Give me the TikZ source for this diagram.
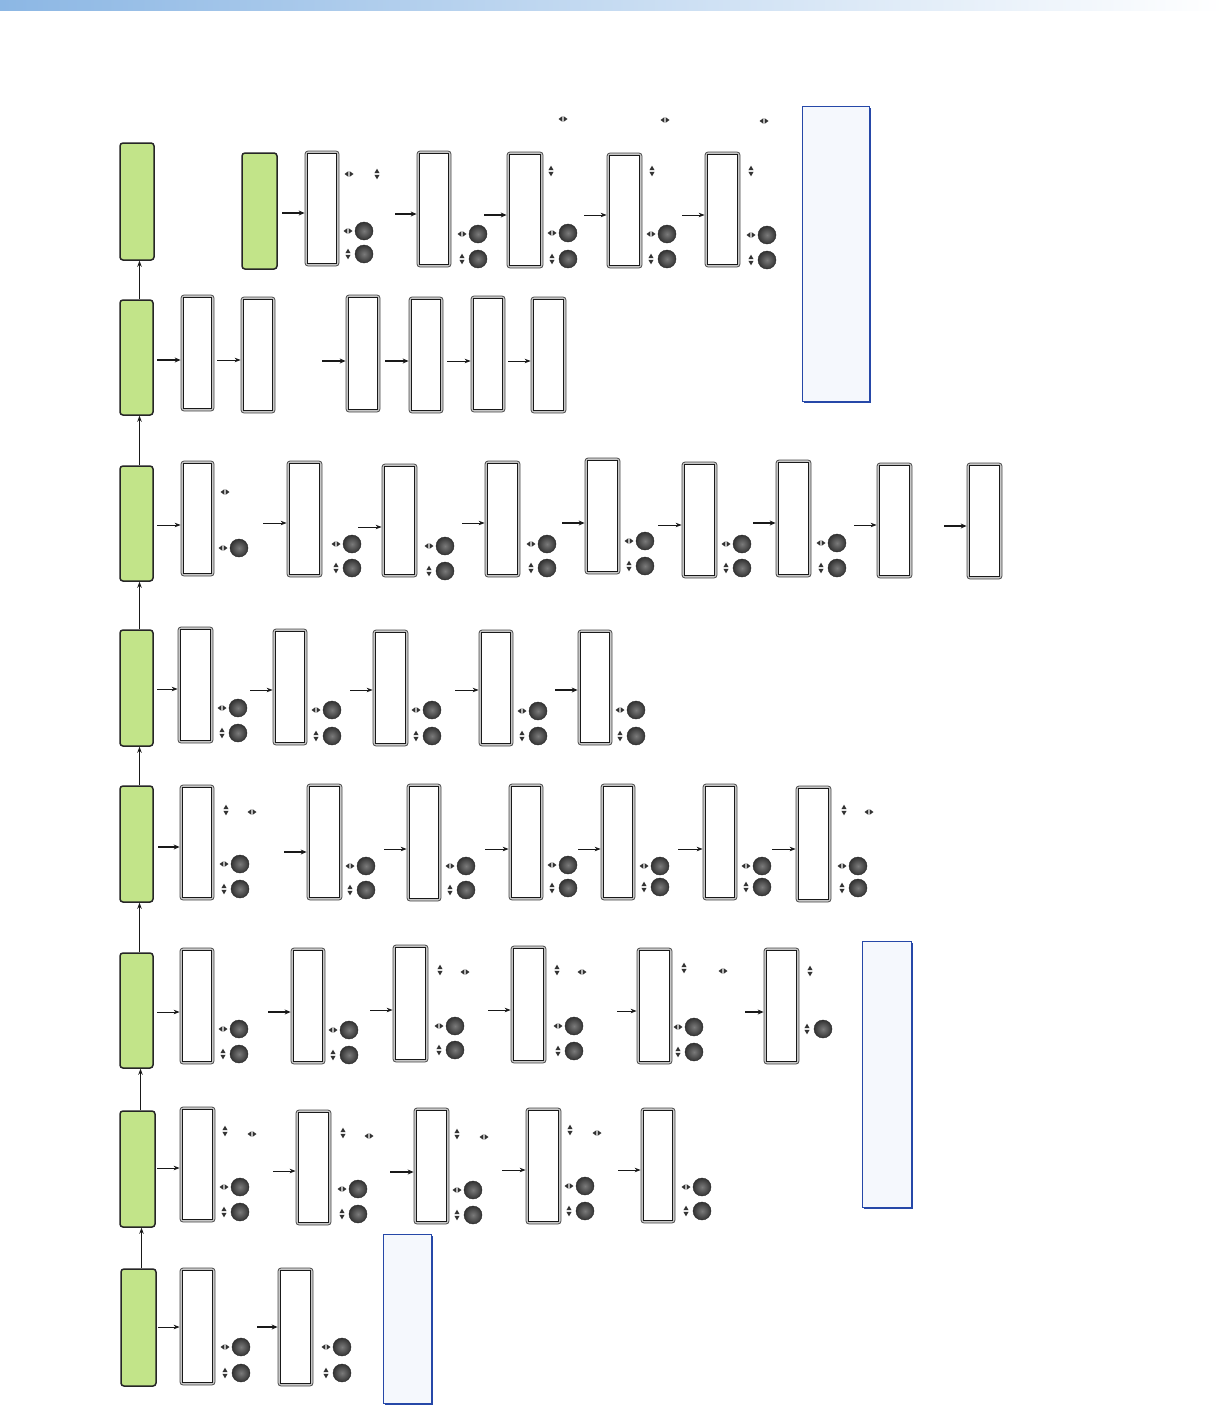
\documentclass[tikz,border=0pt]{standalone}
\usetikzlibrary{arrows.meta,calc}
\definecolor{grnfill}{RGB}{194,228,137}
\definecolor{notefill}{RGB}{245,248,253}
\definecolor{noteline}{RGB}{38,72,168}
\definecolor{barL}{RGB}{140,183,228}
\definecolor{barM}{RGB}{210,226,245}
\tikzset{
  grn/.style={draw=black!85,fill=grnfill,line width=1.5pt,rounded corners=3pt,inner sep=0pt},
  lcd/.style={draw=black!70,fill=black!22,line width=0.8pt,rounded corners=3pt,inner sep=0pt},
  lcdin/.style={draw=black!90,fill=white,line width=0.7pt},
  btn/.style={circle,minimum size=18pt,inner sep=0pt,draw=black!85,line width=0.4pt,shading=radial,inner color=black!52,outer color=black!80},
  ico/.style={fill=black!80},
  notebox/.style={draw=noteline,fill=notefill,line width=1pt,inner sep=0pt},
  thin/.style={draw=black!90,line width=0.8pt,-{Stealth[length=6pt,width=4.5pt]}},
  thick/.style={draw=black!90,line width=1.6pt,-{Stealth[length=6pt,width=5pt]}},
  up/.style={draw=black!90,line width=0.8pt,-{Stealth[length=6pt,width=4.5pt]}}
}
\newcommand{\LCD}[5]{%
  \node[lcd,minimum width={(#4-#2)*1pt},minimum height={(#5-#3)*1pt}] (#1) at ({(#2+#4)/2},{(#3+#5)/2}) {};
  \draw[lcdin] ([shift={(3pt,-3pt)}]#1.north west) rectangle ([shift={(-3pt,3pt)}]#1.south east);}
\newcommand{\GRN}[5]{%
  \node[grn,minimum width={(#4-#2)*1pt},minimum height={(#5-#3)*1pt}] (#1) at ({(#2+#4)/2},{(#3+#5)/2}) {};}
\newcommand{\NOTE}[5]{%
  \fill[noteline] ({#2+1.5},{#3+1.5}) rectangle ({#4+1.5},{#5+1.5});
  \node[notebox,minimum width={(#4-#2)*1pt},minimum height={(#5-#3)*1pt}] (#1) at ({(#2+#4)/2},{(#3+#5)/2}) {};}
\newcommand{\HI}[2]{\fill[ico] ({#1-4.5},#2) -- ({#1-0.6},{#2-2.8}) -- ({#1-0.6},{#2+2.8}) -- cycle
  ({#1+4.5},#2) -- ({#1+0.6},{#2-2.8}) -- ({#1+0.6},{#2+2.8}) -- cycle;}
\newcommand{\VI}[2]{\fill[ico] (#1,{#2-5.3}) -- ({#1-2.6},{#2-0.8}) -- ({#1+2.6},{#2-0.8}) -- cycle
  (#1,{#2+5.3}) -- ({#1-2.6},{#2+0.8}) -- ({#1+2.6},{#2+0.8}) -- cycle;}
\newcommand{\BH}[2]{\node[btn] (bh#1x#2) at (#1,#2) {}; \HI{#1-16}{#2}}
\newcommand{\BV}[2]{\node[btn] (bv#1x#2) at (#1,#2) {}; \VI{#1-16}{#2}}
\newcommand{\ARR}[5]{\coordinate (#1) at (#2,#3); \draw[#5] (#1) -- (#1 -| #4.west);}
\newcommand{\UPL}[2]{\draw[up] ([xshift=3pt]#1.north) -- ([xshift=3pt]#1.north |- #2.south);}
\begin{document}
\begin{tikzpicture}[x=1pt,y=-1pt]
\useasboundingbox (0,0) rectangle (1224,1405);
\fill[white] (0,0) rectangle (1224,1405);
\shade[left color=barL,middle color=barM,right color=white] (0,0) rectangle (1224,11);

% ---------- Row 1 ----------
\GRN{G1}{120}{143}{154}{260}
\GRN{G1b}{242}{153}{277}{269}
\LCD{D11}{305}{151}{339}{266}
\LCD{D12}{417}{151}{451}{267}
\LCD{D13}{507}{152}{543}{268}
\LCD{D14}{607}{153}{642}{268}
\LCD{D15}{705}{152}{740}{267}
\ARR{a11}{282}{213}{D11}{thick}
\ARR{a12}{395}{214}{D12}{thick}
\ARR{a13}{484}{215}{D13}{thick}
\ARR{a14}{584}{215}{D14}{thin}
\ARR{a15}{682}{215}{D15}{thin}
\BH{364}{231}\BV{364}{254}
\BH{478}{234}\BV{478}{259}
\BH{568}{233}\BV{568}{259}
\BH{667}{234}\BV{667}{259}
\BH{767}{235}\BV{767}{260}
\HI{349}{174}\VI{377}{174}
\HI{563}{119}\HI{665}{120}\HI{764}{121}
\VI{551}{171}\VI{652}{171}\VI{751}{171}
\NOTE{N1}{802}{106}{869}{401}

% ---------- Row 2 ----------
\GRN{G2}{120}{300}{153}{415}
\LCD{D21}{181}{295}{214}{411}
\LCD{D22}{241}{297}{275}{413}
\LCD{D23}{346}{295}{380}{412}
\LCD{D24}{409}{297}{443}{413}
\LCD{D25}{471}{296}{505}{412}
\LCD{D26}{531}{297}{566}{413}
\ARR{a21}{157}{360}{D21}{thick}
\ARR{a22}{217}{360}{D22}{thin}
\ARR{a23}{322}{361}{D23}{thick}
\ARR{a24}{385}{361}{D24}{thick}
\ARR{a25}{447}{361}{D25}{thin}
\ARR{a26}{508}{361}{D26}{thin}

% ---------- Row 3 ----------
\GRN{G3}{120}{466}{153}{581}
\LCD{D31}{181}{461}{214}{576}
\LCD{D32}{287}{461}{322}{577}
\LCD{D33}{382}{464}{417}{577}
\LCD{D34}{485}{461}{520}{577}
\LCD{D35}{585}{458}{620}{574}
\LCD{D36}{682}{462}{717}{578}
\LCD{D37}{776}{460}{811}{577}
\LCD{D38}{877}{463}{912}{578}
\LCD{D39}{967}{463}{1002}{579}
\ARR{a31}{157}{525}{D31}{thin}
\ARR{a32}{263}{523}{D32}{thin}
\ARR{a33}{358}{527}{D33}{thin}
\ARR{a34}{462}{523}{D34}{thin}
\ARR{a35}{562}{523}{D35}{thick}
\ARR{a36}{658}{525}{D36}{thin}
\ARR{a37}{753}{523}{D37}{thick}
\ARR{a38}{854}{525}{D38}{thin}
\ARR{a39}{944}{526}{D39}{thick}
\HI{225}{492}
\BH{239}{548}
\BH{352}{544}\BV{352}{568}
\BH{445}{546}\BV{445}{571}
\BH{547}{544}\BV{547}{568}
\BH{645}{541}\BV{645}{566}
\BH{742}{544}\BV{742}{568}
\BH{837}{543}\BV{837}{568}

% ---------- Row 4 ----------
\GRN{G4}{120}{630}{153}{746}
\LCD{D41}{178}{627}{213}{743}
\LCD{D42}{273}{629}{307}{745}
\LCD{D43}{373}{630}{408}{746}
\LCD{D44}{479}{630}{513}{746}
\LCD{D45}{578}{630}{612}{745}
\ARR{a41}{157}{689}{D41}{thin}
\ARR{a42}{250}{690}{D42}{thin}
\ARR{a43}{350}{690}{D43}{thin}
\ARR{a44}{455}{690}{D44}{thin}
\ARR{a45}{555}{690}{D45}{thick}
\BH{238}{708}\BV{238}{733}
\BH{332}{710}\BV{332}{736}
\BH{432}{710}\BV{432}{736}
\BH{538}{711}\BV{538}{736}
\BH{636}{710}\BV{636}{736}

% ---------- Row 5 ----------
\GRN{G5}{120}{786}{153}{902}
\LCD{D51}{180}{785}{214}{900}
\LCD{D52}{307}{784}{342}{900}
\LCD{D53}{407}{784}{441}{901}
\LCD{D54}{509}{784}{543}{900}
\LCD{D55}{601}{784}{635}{900}
\LCD{D56}{703}{784}{737}{900}
\LCD{D57}{796}{786}{831}{902}
\ARR{a51}{158}{847}{D51}{thick}
\ARR{a52}{284}{852}{D52}{thick}
\ARR{a53}{384}{849}{D53}{thin}
\ARR{a54}{485}{849}{D54}{thin}
\ARR{a55}{578}{849}{D55}{thin}
\ARR{a56}{678}{849}{D56}{thin}
\ARR{a57}{772}{849}{D57}{thin}
\VI{226}{810}\HI{252}{812}
\VI{844}{810}\HI{869}{812}
\BH{240}{864}\BV{240}{889}
\BH{366}{866}\BV{366}{890}
\BH{466}{866}\BV{466}{890}
\BH{568}{865}\BV{568}{888}
\BH{660}{866}\BV{660}{887}
\BH{762}{866}\BV{762}{887}
\BH{858}{866}\BV{858}{888}

% ---------- Row 6 ----------
\GRN{G6}{120}{953}{153}{1068}
\LCD{D61}{180}{948}{214}{1064}
\LCD{D62}{291}{948}{325}{1064}
\LCD{D63}{393}{945}{428}{1062}
\LCD{D64}{511}{946}{546}{1063}
\LCD{D65}{637}{948}{672}{1064}
\LCD{D66}{764}{948}{799}{1064}
\ARR{a61}{157}{1012}{D61}{thin}
\ARR{a62}{268}{1012}{D62}{thick}
\ARR{a63}{370}{1010}{D63}{thin}
\ARR{a64}{488}{1010}{D64}{thin}
\ARR{a65}{617}{1011}{D65}{thin}
\ARR{a66}{745}{1012}{D66}{thick}
\VI{440}{970}\HI{465}{972}
\VI{557}{970}\HI{582}{972}
\VI{684}{968}\HI{723}{971}
\VI{810}{971}
\BH{239}{1029}\BV{239}{1054}
\BH{349}{1030}\BV{349}{1055}
\BH{455}{1026}\BV{455}{1050}
\BH{574}{1026}\BV{574}{1051}
\BH{694}{1027}\BV{694}{1052}
\BV{823}{1029}
\NOTE{N2}{862}{941}{911}{1207}

% ---------- Row 7 ----------
\GRN{G7}{120}{1111}{155}{1227}
\LCD{D71}{180}{1107}{215}{1222}
\LCD{D72}{296}{1110}{331}{1225}
\LCD{D73}{414}{1108}{449}{1224}
\LCD{D74}{526}{1108}{561}{1224}
\LCD{D75}{641}{1108}{675}{1223}
\ARR{a71}{157}{1168}{D71}{thin}
\ARR{a72}{273}{1171}{D72}{thin}
\ARR{a73}{390}{1172}{D73}{thick}
\ARR{a74}{502}{1170}{D74}{thin}
\ARR{a75}{618}{1170}{D75}{thin}
\VI{225}{1131}\HI{252}{1134}
\VI{343}{1133}\HI{369}{1136}
\VI{457}{1134}\HI{484}{1137}
\VI{570}{1130}\HI{597}{1133}
\BH{240}{1187}\BV{240}{1212}
\BH{358}{1189}\BV{358}{1214}
\BH{473}{1190}\BV{473}{1215}
\BH{585}{1186}\BV{585}{1211}
\BH{702}{1187}\BV{702}{1211}

% ---------- Row 8 ----------
\GRN{G8}{121}{1269}{156}{1386}
\LCD{D81}{180}{1268}{215}{1385}
\LCD{D82}{278}{1268}{313}{1386}
\ARR{a81}{158}{1327}{D81}{thin}
\ARR{a82}{257}{1327}{D82}{thick}
\BH{241}{1347}\BV{241}{1373}
\BH{342}{1347}\BV{342}{1373}
\NOTE{N3}{383}{1234}{431}{1403}

% ---------- vertical links ----------
\UPL{G8}{G7}
\UPL{G7}{G6}
\UPL{G6}{G5}
\UPL{G5}{G4}
\UPL{G4}{G3}
\UPL{G3}{G2}
\UPL{G2}{G1}
\end{tikzpicture}
\end{document}
